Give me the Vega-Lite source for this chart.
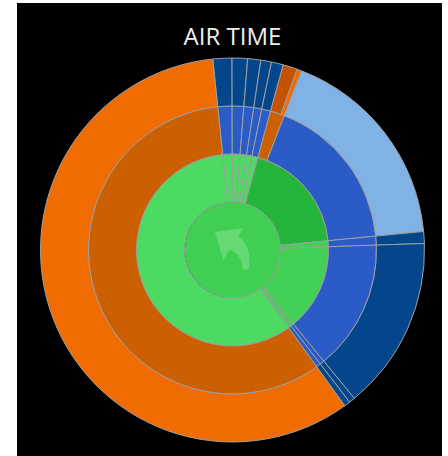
{
  "$schema": "https://vega.github.io/schema/vega-lite/v6.json",
  "width": 425,
  "height": 453,
  "autosize": "none",
  "padding": {"left": 17, "top": 3, "right": 6, "bottom": 0},
  "background": "white",
  "title": {
    "text": "AIR TIME",
    "color": "#eeeeee",
    "font": "Open Sans",
    "fontSize": 24,
    "fontWeight": "normal",
    "anchor": "middle",
    "frame": "group",
    "baseline": "alphabetic",
    "offset": -66,
    "dx": 3
  },
  "layer": [
    {
      "data": {"values": [{"panel": "background"}]},
      "mark": {"type": "rect", "color": "black"},
      "encoding": {}
    },
    {
      "data": {
        "values": [
          {"inner": 0, "outer": 1, "start": 0, "end": 100, "kind": "All"},
          {"inner": 1, "outer": 2, "start": 0, "end": 1.6, "kind": "Light green"},
          {"inner": 1, "outer": 2, "start": 1.6, "end": 2.9, "kind": "Light green"},
          {"inner": 1, "outer": 2, "start": 2.9, "end": 4.0, "kind": "Light green"},
          {"inner": 1, "outer": 2, "start": 4.0, "end": 4.9, "kind": "Light green"},
          {"inner": 1, "outer": 2, "start": 4.9, "end": 5.9, "kind": "Light green"},
          {"inner": 1, "outer": 2, "start": 5.9, "end": 25.1, "kind": "Dark green"},
          {"inner": 1, "outer": 2, "start": 25.1, "end": 26.1, "kind": "Mid green"},
          {"inner": 1, "outer": 2, "start": 26.1, "end": 40.7, "kind": "Mid green"},
          {"inner": 1, "outer": 2, "start": 40.7, "end": 41.2, "kind": "Mid green"},
          {"inner": 1, "outer": 2, "start": 41.2, "end": 41.7, "kind": "Mid green"},
          {"inner": 1, "outer": 2, "start": 41.7, "end": 100, "kind": "Light green"},
          {"inner": 2, "outer": 3, "start": 0, "end": 1.6, "kind": "Blue"},
          {"inner": 2, "outer": 3, "start": 1.6, "end": 2.9, "kind": "Blue"},
          {"inner": 2, "outer": 3, "start": 2.9, "end": 4.0, "kind": "Blue"},
          {"inner": 2, "outer": 3, "start": 4.0, "end": 4.9, "kind": "Blue"},
          {"inner": 2, "outer": 3, "start": 4.9, "end": 5.9, "kind": "Blue"},
          {"inner": 2, "outer": 3, "start": 5.9, "end": 7.5, "kind": "Rust"},
          {"inner": 2, "outer": 3, "start": 7.5, "end": 25.1, "kind": "Blue"},
          {"inner": 2, "outer": 3, "start": 25.1, "end": 26.1, "kind": "Blue"},
          {"inner": 2, "outer": 3, "start": 26.1, "end": 40.7, "kind": "Blue"},
          {"inner": 2, "outer": 3, "start": 40.7, "end": 41.2, "kind": "Blue"},
          {"inner": 2, "outer": 3, "start": 41.2, "end": 41.7, "kind": "Blue"},
          {"inner": 2, "outer": 3, "start": 41.7, "end": 100, "kind": "Rust"},
          {"inner": 3, "outer": 4, "start": 0, "end": 1.6, "kind": "Navy"},
          {"inner": 3, "outer": 4, "start": 1.6, "end": 2.9, "kind": "Navy"},
          {"inner": 3, "outer": 4, "start": 2.9, "end": 4.0, "kind": "Navy"},
          {"inner": 3, "outer": 4, "start": 4.0, "end": 4.9, "kind": "Navy"},
          {"inner": 3, "outer": 4, "start": 4.9, "end": 5.9, "kind": "Navy"},
          {"inner": 3, "outer": 4, "start": 5.9, "end": 7.1, "kind": "Brick"},
          {"inner": 3, "outer": 4, "start": 7.1, "end": 7.5, "kind": "Orange"},
          {"inner": 3, "outer": 4, "start": 7.5, "end": 25.1, "kind": "Sky"},
          {"inner": 3, "outer": 4, "start": 25.1, "end": 26.1, "kind": "Navy"},
          {"inner": 3, "outer": 4, "start": 26.1, "end": 40.7, "kind": "Navy"},
          {"inner": 3, "outer": 4, "start": 40.7, "end": 41.2, "kind": "Navy"},
          {"inner": 3, "outer": 4, "start": 41.2, "end": 41.7, "kind": "Navy"},
          {"inner": 3, "outer": 4, "start": 41.7, "end": 100, "kind": "Orange"}
        ]
      },
      "mark": {
        "type": "arc",
        "stroke": "#a0a0a0",
        "strokeWidth": 1,
        "xOffset": 3,
        "yOffset": 20.5
      },
      "encoding": {
        "theta": {
          "field": "start",
          "type": "quantitative",
          "scale": {"domain": [0, 100], "range": [-0.103, 6.18]}
        },
        "theta2": {"field": "end"},
        "radius": {
          "field": "inner",
          "type": "quantitative",
          "scale": {"type": "linear", "domain": [0, 4], "range": [0, 192], "zero": true}
        },
        "radius2": {"field": "outer"},
        "color": {
          "field": "kind",
          "type": "nominal",
          "legend": null,
          "scale": {
            "domain": ["All", "Light green", "Dark green", "Mid green", "Blue", "Rust", "Navy", "Brick", "Orange", "Sky"],
            "range": ["#40cf52", "#4cda62", "#24b53a", "#42d156", "#2a5bc6", "#cc6000", "#03468c", "#c45200", "#f06b00", "#80b2e6"]
          }
        },
        "strokeOpacity": {
          "condition": {"test": "datum.inner == 0", "value": 0},
          "value": 1
        }
      }
    },
    {
      "data": {"values": [{"icon": "back"}]},
      "mark": {
        "type": "point",
        "shape": "M -0.80 -0.83 L 0.49 -0.99 L 0.27 -0.62 Q 0.90 -0.10 0.74 0.86 L 0.46 0.91 Q 0.50 0.30 -0.12 -0.02 L -0.42 0.45 Z",
        "size": 1936,
        "filled": true,
        "color": "white",
        "opacity": 0.2,
        "strokeWidth": 0,
        "xOffset": 3,
        "yOffset": 20.5
      },
      "encoding": {}
    }
  ]
}
